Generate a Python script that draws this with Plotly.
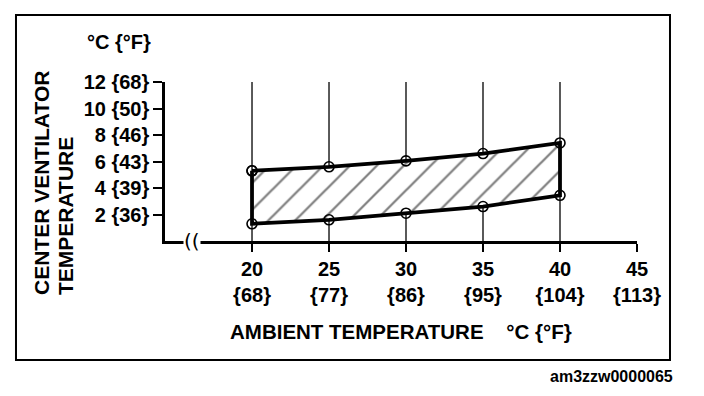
import plotly.graph_objects as go

# Data
ambient_c = [20, 25, 30, 35, 40]
upper_c = [5.3, 5.6, 6.05, 6.6, 7.4]
lower_c = [1.3, 1.6, 2.1, 2.6, 3.45]

x_tick_vals = [20, 25, 30, 35, 40, 45]
x_tick_f = ["{68}", "{77}", "{86}", "{95}", "{104}", "{113}"]
y_tick_vals = [2, 4, 6, 8, 10, 12]
y_tick_f = ["{36}", "{39}", "{43}", "{46}", "{50}", "{68}"]

FONT = "Liberation Sans, Arial, sans-serif"

fig = go.Figure()

# vertical grid lines at the data columns
gx, gy = [], []
for v in ambient_c:
    gx += [v, v, None]
    gy += [0, 12, None]
fig.add_trace(go.Scatter(x=gx, y=gy, mode="lines",
                         line=dict(color="black", width=1.3), hoverinfo="skip",
                         showlegend=False))

# hatched band
px = ambient_c + ambient_c[::-1] + [ambient_c[0]]
py = upper_c + lower_c[::-1] + [upper_c[0]]
fig.add_trace(go.Scatter(
    x=px, y=py, mode="lines+markers", fill="toself",
    fillcolor="rgba(0,0,0,0)",
    fillpattern=dict(shape="/", size=19, solidity=0.12, fgcolor="black",
                     bgcolor="white", fillmode="overlay"),
    line=dict(color="black", width=3.8),
    marker=dict(symbol="circle-open", size=10, color="black", line=dict(width=1.6)),
    showlegend=False, hoverinfo="skip"))

fig.update_xaxes(range=[14.35, 45], tickvals=x_tick_vals,
                 ticktext=[f"<b>{v}</b><br><b>{f}</b>" for v, f in zip(x_tick_vals, x_tick_f)],
                 ticks="outside", ticklen=8, tickwidth=2, tickcolor="black",
                 showline=True, linecolor="black", linewidth=2.5,
                 showgrid=False, zeroline=False,
                 tickfont=dict(family=FONT, size=20, color="black"))
fig.update_yaxes(range=[0, 12], tickvals=y_tick_vals,
                 ticktext=[f"<b>{v} {f}</b>" for v, f in zip(y_tick_vals, y_tick_f)],
                 ticks="outside", ticklen=9, tickwidth=2, tickcolor="black",
                 showline=True, linecolor="black", linewidth=2.5,
                 showgrid=False, zeroline=False,
                 tickfont=dict(family=FONT, size=20, color="black"))

annots = [
    dict(text="<b>°C {°F}</b>", x=-0.0975, y=1.2516, xanchor="center", yanchor="middle", size=20),
    dict(text="<b>CENTER VENTILATOR</b>", x=-0.2606, y=-0.3522, textangle=-90,
         xanchor="center", yanchor="bottom", size=21),
    dict(text="<b>TEMPERATURE</b>", x=-0.2097, y=-0.3522, textangle=-90,
         xanchor="center", yanchor="bottom", size=21),
    dict(text="<b>AMBIENT TEMPERATURE    °C {°F}</b>", x=0.1335, y=-0.5723,
         xanchor="left", yanchor="middle", size=20.5),
]
for a in annots:
    sz = a.pop("size")
    fig.add_annotation(xref="paper", yref="paper", showarrow=False,
                       font=dict(family=FONT, size=sz, color="black"), **a)
fig.add_annotation(xref="paper", yref="paper", showarrow=False,
                   text="<b>am3zzw0000065</b>", x=0.947, y=-0.855,
                   xanchor="center", yanchor="middle",
                   font=dict(family=FONT, size=16, color="black"))
# axis break mark
fig.add_annotation(xref="x", yref="y", x=16.1, y=0, showarrow=False,
                   text="((", bgcolor="white", borderpad=0,
                   font=dict(family="DejaVu Sans", size=20, color="black"))

# outer frame
fig.add_shape(type="rect", xref="paper", yref="paper",
              x0=-0.3157, x1=1.0699, y0=-0.7484, y1=1.4214,
              line=dict(color="black", width=2))

fig.update_layout(width=696, height=388, margin=dict(l=157, r=67, t=74, b=155),
                  plot_bgcolor="white", paper_bgcolor="white",
                  font=dict(family=FONT, color="black"))
fig.write_html("out.html")
